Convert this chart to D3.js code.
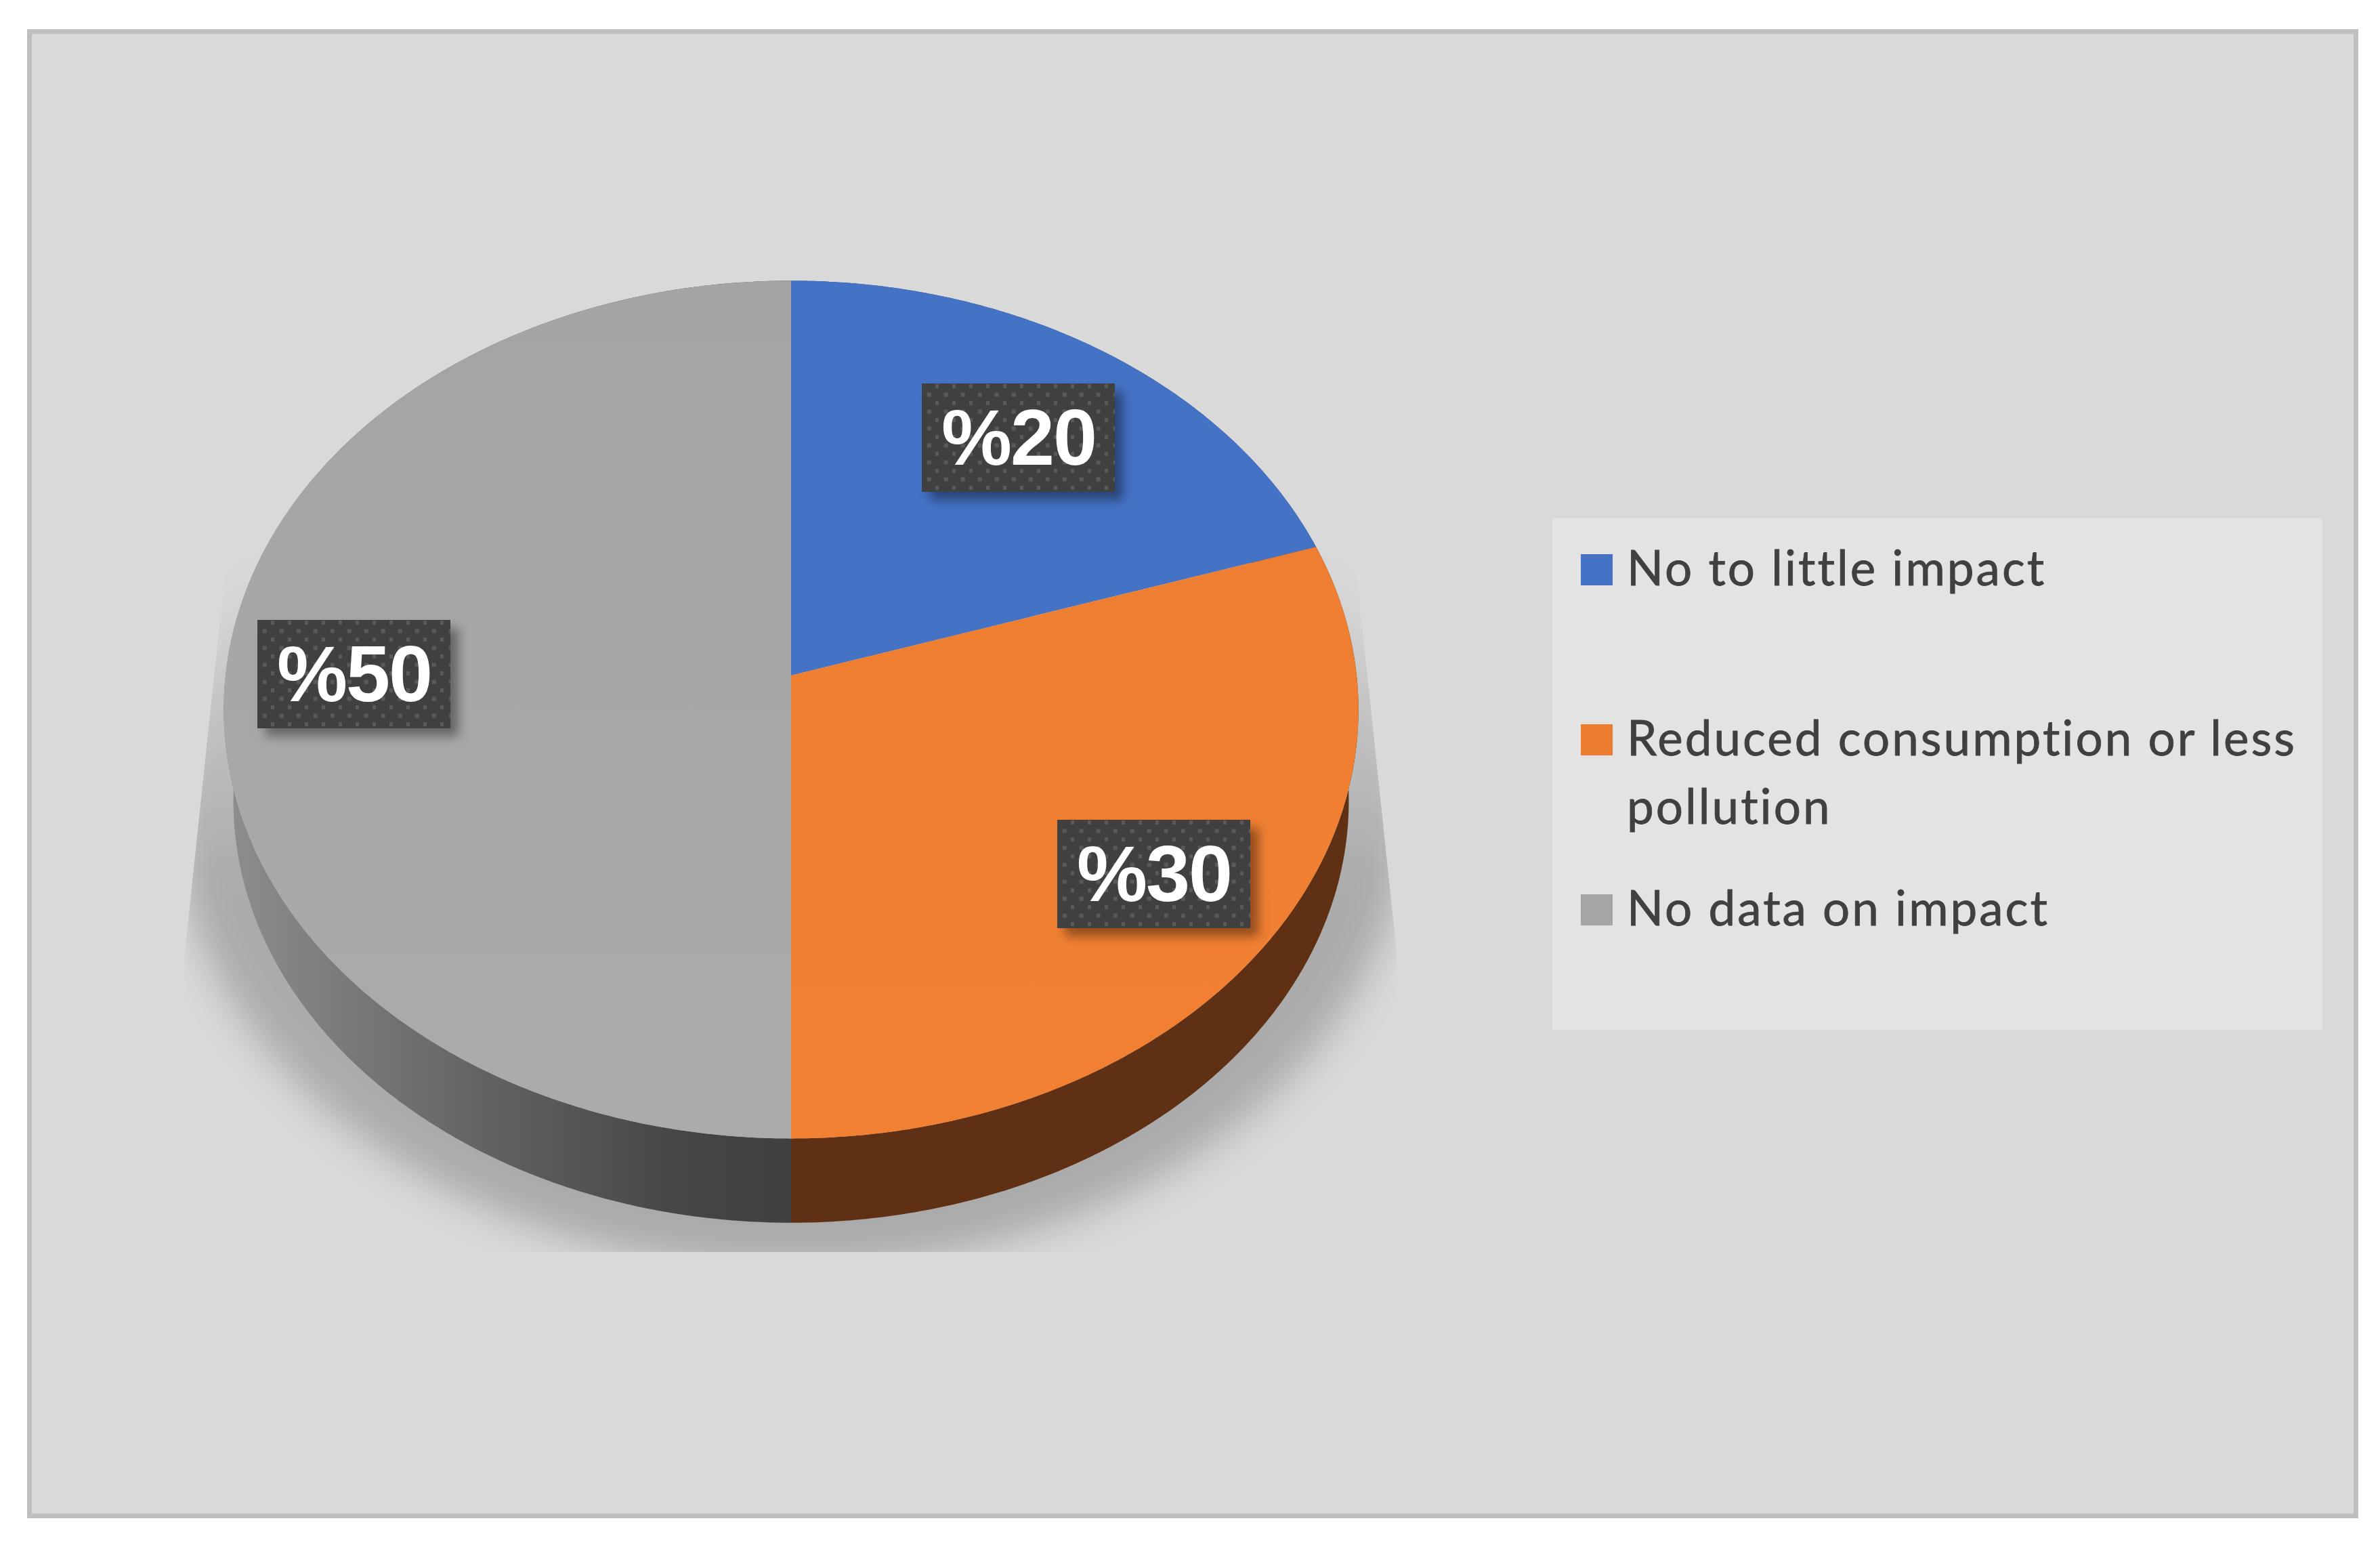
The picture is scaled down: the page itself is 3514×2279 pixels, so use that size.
<!DOCTYPE html>
<html>
<head>
<meta charset="utf-8">
<script src="https://cdn.jsdelivr.net/npm/d3@7"></script>
<style>
  body { margin: 0; background: #ffffff; }
  svg { display: block; }
</style>
</head>
<body>
<script>
// the values of the chart
var categories = ["No to little impact", "Reduced consumption or less pollution", "No data on impact"];
var values = [20, 30, 50];
var valueLabels = ["%20", "%30", "%50"];

// defines the sizes
var width = 3514;
var height = 2279;

// pie is tilted, so the centre is not in the middle of the top face
var centerX = 1168;
var centerY = 997;
var radiusX = 835;
var radiusY = 629;
var tilt = 0.0796;
var wallDrop = 136;
var wallScale = 0.983;

var topColors = ["#4472c5", "url(#orangeTop)", "url(#grayTop)"];
var wallColors = ["#2a4578", "#5f3013", "url(#grayWall)"];
var legendColors = ["#4472c4", "#ed7d31", "#a5a5a5"];

// left upper corner of the dark label boxes
var labelBoxes = [[1361, 566], [1561, 1210], [380, 915]];
var legendRows = [818, 1069, 1320];

var svg = d3.select("body")
            .append("svg")
            .attr("width", width)
            .attr("height", height);

var defs = svg.append("defs");

function addGradient(id, x1, y1, x2, y2, stops) {
  var gradient = defs.append("linearGradient")
                     .attr("id", id)
                     .attr("gradientUnits", "userSpaceOnUse")
                     .attr("x1", x1).attr("y1", y1)
                     .attr("x2", x2).attr("y2", y2);
  stops.forEach(function(d) {
    gradient.append("stop")
            .attr("offset", d[0])
            .attr("stop-color", d[1])
            .attr("stop-opacity", d[2] === undefined ? 1 : d[2]);
  });
}

addGradient("grayWall", 335, 0, 1168, 0, [[0, "#8e8e8e"], [0.45, "#636363"], [0.8, "#464646"], [1, "#404040"]]);
addGradient("grayTop", 0, 415, 0, 1681, [[0, "#a4a4a4"], [1, "#ababab"]]);
addGradient("orangeTop", 0, 800, 0, 1681, [[0, "#ee7e31"], [1, "#f28032"]]);

// the shadow fades out towards the top
addGradient("shadowFade", 0, 830, 0, 1300, [[0, "#000000", 0], [0.35, "#000000", 0.08], [1, "#000000", 0.21]]);

// blur for the shadow under the pie and for the label boxes
defs.append("filter").attr("id", "pieBlur")
    .attr("x", "-10%").attr("y", "-10%").attr("width", "120%").attr("height", "120%")
    .append("feGaussianBlur").attr("stdDeviation", 28);
defs.append("filter").attr("id", "boxBlur")
    .attr("x", "-20%").attr("y", "-30%").attr("width", "140%").attr("height", "160%")
    .append("feGaussianBlur").attr("stdDeviation", 8);

// shadow is cut off by a box that is narrower at the top
defs.append("clipPath").attr("id", "shadowClip")
    .append("polygon")
    .attr("points", "337,800 273,1405 273,1848 2062,1848 2062,1405 1998,800");

// dots on the label boxes
var dots = defs.append("pattern")
               .attr("id", "dots")
               .attr("patternUnits", "userSpaceOnUse")
               .attr("width", 25)
               .attr("height", 25);
dots.append("rect").attr("width", 25).attr("height", 25).attr("fill", "#404040");
dots.append("rect").attr("x", 20).attr("y", 1).attr("width", 6).attr("height", 6).attr("fill", "#595959");
dots.append("rect").attr("x", 7.7).attr("y", 13.5).attr("width", 6).attr("height", 6).attr("fill", "#595959");

// background with the frame
svg.append("rect")
   .attr("x", 43.5)
   .attr("y", 46.5)
   .attr("width", 3435)
   .attr("height", 2191)
   .attr("fill", "#d9d9d9")
   .attr("stroke", "#bfbfbf")
   .attr("stroke-width", 7);

// d3 gives the angles, clockwise from the top
var pie = d3.pie().sort(null).value(function(d) { return d; });
var slices = pie(values);

// angle on the pie to a point on the screen
function project(angle, scale, drop) {
  var depth = 1 + tilt * Math.cos(angle);
  return [centerX + radiusX * scale * Math.sin(angle) / depth,
          centerY + drop - radiusY * scale * Math.cos(angle) / depth];
}

function outline(start, end, scale, drop) {
  var steps = Math.ceil((end - start) * 120);
  return d3.range(steps + 1).map(function(i) {
    return project(start + (end - start) * i / steps, scale, drop);
  });
}

var line = d3.line();

// shadow
svg.append("g")
   .attr("clip-path", "url(#shadowClip)")
   .append("path")
   .attr("d", line(outline(0, 2 * Math.PI, 1.09, 130)) + "Z")
   .attr("fill", "url(#shadowFade)")
   .attr("filter", "url(#pieBlur)");

// walls
svg.selectAll(".wall")
   .data(slices)
   .enter()
   .append("path")
   .attr("class", "wall")
   .attr("d", function(d) {
     var bottom = outline(d.startAngle, d.endAngle, wallScale, wallDrop);
     var top = outline(d.startAngle, d.endAngle, 1, 0).reverse();
     return line(bottom.concat(top)) + "Z";
   })
   .attr("fill", function(d, i) { return wallColors[i]; });

// top faces
svg.selectAll(".slice")
   .data(slices)
   .enter()
   .append("path")
   .attr("class", "slice")
   .attr("d", function(d) {
     return line([[centerX, centerY]].concat(outline(d.startAngle, d.endAngle, 1, 0))) + "Z";
   })
   .attr("fill", function(d, i) { return topColors[i]; });

// value labels
var labels = svg.selectAll(".label")
                .data(valueLabels)
                .enter()
                .append("g")
                .attr("class", "label")
                .attr("transform", function(d, i) {
                  return "translate(" + labelBoxes[i][0] + "," + labelBoxes[i][1] + ")";
                });

labels.append("rect")
      .attr("x", 12)
      .attr("y", 12)
      .attr("width", 285)
      .attr("height", 160)
      .attr("fill", "#000000")
      .attr("fill-opacity", 0.4)
      .attr("filter", "url(#boxBlur)");

labels.append("rect")
      .attr("width", 285)
      .attr("height", 160)
      .attr("fill", "url(#dots)");

labels.append("text")
      .attr("x", 143)
      .attr("y", 120)
      .attr("text-anchor", "middle")
      .style("font-family", "Liberation Sans")
      .style("font-weight", "bold")
      .style("font-size", "117px")
      .style("letter-spacing", "-2px")
      .attr("fill", "#ffffff")
      .text(function(d) { return d; });

// legend
svg.append("rect")
   .attr("x", 2292)
   .attr("y", 765)
   .attr("width", 1137)
   .attr("height", 755)
   .attr("fill", "#e3e3e3");

var legend = svg.selectAll(".legendRow")
                .data(categories)
                .enter()
                .append("g")
                .attr("class", "legendRow")
                .attr("transform", function(d, i) {
                  return "translate(2334," + legendRows[i] + ")";
                });

legend.append("rect")
      .attr("width", 47)
      .attr("height", 46)
      .attr("fill", function(d, i) { return legendColors[i]; });

legend.append("text")
      .attr("x", 68)
      .attr("y", 46)
      .style("font-family", "Lato")
      .style("font-size", "71px")
      .style("letter-spacing", "3px")
      .attr("fill", "#404040")
      .attr("stroke", "#404040")
      .attr("stroke-width", 0.8)
      .text(function(d, i) { return i == 1 ? "Reduced consumption or less" : d; });

// second line of the long legend entry
legend.filter(function(d, i) { return i == 1; })
      .append("text")
      .attr("x", 68)
      .attr("y", 147)
      .style("font-family", "Lato")
      .style("font-size", "71px")
      .style("letter-spacing", "3px")
      .attr("fill", "#404040")
      .attr("stroke", "#404040")
      .attr("stroke-width", 0.8)
      .text("pollution");
</script>
</body>
</html>
